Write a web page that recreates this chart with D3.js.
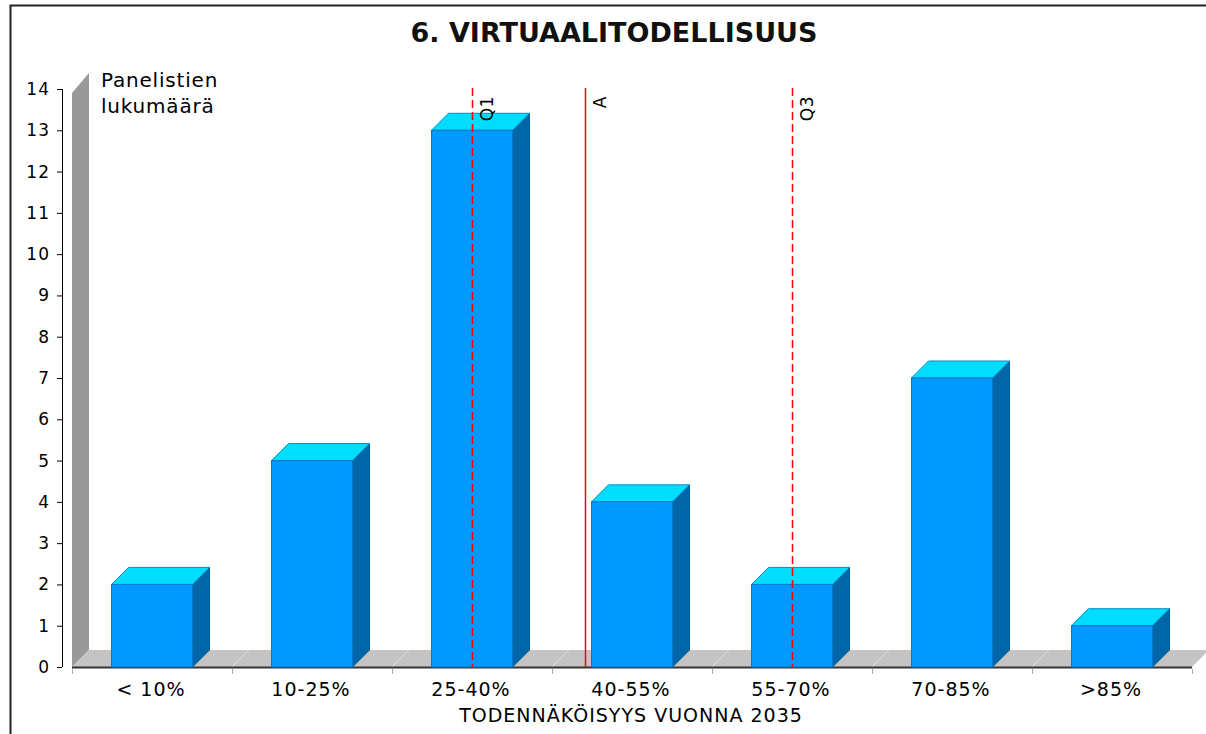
<!DOCTYPE html>
<html><head><meta charset="utf-8">
<script src="https://cdn.jsdelivr.net/npm/d3@7"></script>
<style>body{margin:0;background:#fff}svg{display:block}text{font-family:"DejaVu Sans",Verdana,sans-serif}</style>
</head><body><svg id="c" width="1206" height="734"></svg>
<script>
const title = "6. VIRTUAALITODELLISUUS";
const categories = ["< 10%","10-25%","25-40%","40-55%","55-70%","70-85%",">85%"];
const values = [2,5,13,4,2,7,1];
const yTicks = [0,1,2,3,4,5,6,7,8,9,10,11,12,13,14];
const yLabel = ["Panelistien","lukumäärä"];
const xLabel = "TODENNÄKÖISYYS VUONNA 2035";
const percentEdges = [0,10,25,40,55,70,85,100];
const markerNames = ["Q1","A","Q3"];
const markerValues = [32.5,43.1,62.5];
const markerDashed = [true,false,true];

const svg = d3.select("#c");
const L = 72, R = 1192, B = 667, T = 89, DX = 17, DY = 17;

const x = d3.scaleBand().domain(categories).range([L,R]).paddingInner(0.494).paddingOuter(0.247);
const y = d3.scaleLinear().domain([0,14]).range([B,T]);
const edgeX = d3.scaleLinear().domain([0,categories.length]).range([L,R]);
const pctX = d3.scaleLinear().domain(percentEdges).range(percentEdges.map((d,i)=>edgeX(i)));

// frame
svg.append("path").attr("d","M10.5,734 V5.5 H1206").attr("fill","none").attr("stroke","#222").attr("stroke-width",2);

// title
svg.append("text").attr("x",614).attr("y",42).attr("text-anchor","middle")
  .attr("font-size",27).attr("font-weight","bold").attr("fill","#111").text(title);

// wall
const wallTop = y(14) + 4;
svg.append("path").attr("d",`M${L},${B} V${wallTop} L${L+DX},${wallTop-DY-3} V${B-DY} Z`).attr("fill","#999");
// floor
svg.append("path").attr("d",`M${L},${B} H${R} L${R+DX},${B-DY} H${L+DX} Z`).attr("fill","#c4c4c4");
// floor grid lines
svg.selectAll(".fl").data(d3.range(1,categories.length+1)).join("line")
  .attr("x1",d=>edgeX(d)).attr("y1",B).attr("x2",d=>edgeX(d)+DX).attr("y2",B-DY)
  .attr("stroke","#e4e4e4").attr("stroke-width",1);
// axis line
svg.append("line").attr("x1",L).attr("x2",R).attr("y1",B+0.5).attr("y2",B+0.5).attr("stroke","#333").attr("stroke-width",2);
// category ticks
svg.selectAll(".ct").data(d3.range(0,categories.length+1)).join("line")
  .attr("x1",d=>edgeX(d)+0.5).attr("x2",d=>edgeX(d)+0.5).attr("y1",B+2).attr("y2",B+7)
  .attr("stroke","#aaa");

// bars
const bw = x.bandwidth();
const g = svg.append("g");
values.forEach((v,i)=>{
  const x0 = x(categories[i]), x1 = x0 + bw, yv = y(v);
  g.append("path").attr("d",`M${x1},${yv} L${x1+DX},${yv-DY} V${B-DY} L${x1},${B} Z`)
    .attr("fill","#0066aa").attr("stroke","#005a99").attr("stroke-width",1);
  g.append("path").attr("d",`M${x0},${yv} L${x0+DX},${yv-DY} H${x1+DX} L${x1},${yv} Z`)
    .attr("fill","#00ddff").attr("stroke","#0090c0").attr("stroke-width",1);
  g.append("rect").attr("x",x0).attr("y",yv).attr("width",bw).attr("height",B-yv)
    .attr("fill","#0099ff").attr("stroke","#0077cc").attr("stroke-width",1);
});

// y axis
svg.append("line").attr("x1",62.5).attr("x2",62.5).attr("y1",T).attr("y2",B).attr("stroke","#000");
svg.selectAll(".yt").data(yTicks).join("line")
  .attr("x1",57).attr("x2",62).attr("y1",d=>y(d)+0.5).attr("y2",d=>y(d)+0.5).attr("stroke","#000");
svg.selectAll(".yl").data(yTicks).join("text")
  .attr("x",50).attr("y",d=>y(d)+6).attr("text-anchor","end")
  .attr("font-size",17).attr("letter-spacing",1).attr("fill","#000").text(d=>d);

// y label
svg.selectAll(".ylab").data(yLabel).join("text")
  .attr("x",101).attr("y",(d,i)=>87+i*26).attr("font-size",20).attr("letter-spacing",0.8)
  .attr("fill","#000").text(d=>d);

// x labels
svg.selectAll(".xl").data(categories).join("text")
  .attr("x",d=>x(d)+bw/2-1).attr("y",696).attr("text-anchor","middle")
  .attr("font-size",19).attr("letter-spacing",1).attr("fill","#000").text(d=>d);
svg.append("text").attr("x",631).attr("y",722).attr("text-anchor","middle")
  .attr("font-size",19).attr("letter-spacing",1).attr("fill","#000").text(xLabel);

// markers
markerValues.forEach((m,i)=>{
  const mx = Math.round(pctX(m)) + 0.5;
  svg.append("line").attr("x1",mx).attr("x2",mx).attr("y1",T-1).attr("y2",B)
    .attr("stroke","#ff0000").attr("stroke-width",1.5)
    .attr("stroke-dasharray",markerDashed[i]?"8,4":null);
  svg.append("text").attr("transform",`translate(${mx+20},96) rotate(-90)`)
    .attr("text-anchor","end").attr("font-size",17).attr("letter-spacing",0.5).attr("fill","#000").text(markerNames[i]);
});
</script></body></html>
